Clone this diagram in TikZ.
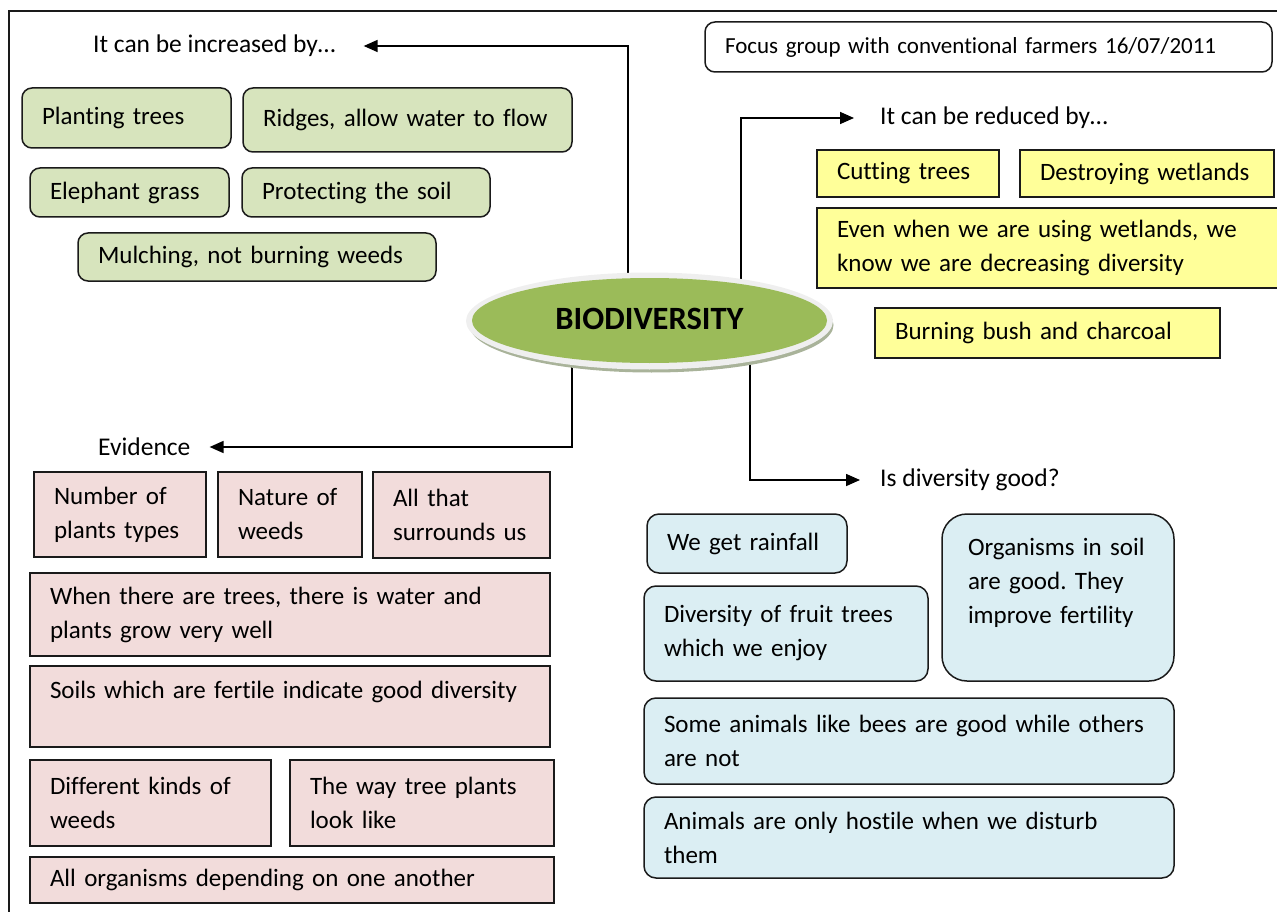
\documentclass[tikz,border=0pt]{standalone}
\usepackage{fontspec}
\setmainfont{Carlito}[Ligatures=NoCommon]
\frenchspacing
\usetikzlibrary{arrows.meta,shapes.geometric}
\pgfdeclarelayer{bg}\pgfsetlayers{bg,main}
\definecolor{gfill}{HTML}{D7E4BD}
\definecolor{yfill}{HTML}{FFFF99}
\definecolor{pfill}{HTML}{F2DCDB}
\definecolor{bfill}{HTML}{DBEEF3}
\definecolor{egreen}{HTML}{9BBB59}
\definecolor{rim}{HTML}{EFEFEF}
\definecolor{shad}{HTML}{A9B39A}
\definecolor{edge}{HTML}{1A1A1A}
\newcommand\mybox[7]{%
  \pgfmathsetmacro\bxw{#4-#2}%
  \pgfmathsetmacro\bxh{#5-#3}%
  \pgfmathsetmacro\bxt{#4-#2-40}%
  \pgfmathsetmacro\bxx{(#2+#4)/2}%
  \pgfmathsetmacro\bxy{(#3+#5)/2}%
  \node[#6, minimum width=\bxw pt, minimum height=\bxh pt, text width=\bxt pt, inner xsep=20pt, align=left] (#1) at (\bxx,\bxy) {#7};}
\begin{document}
\begin{tikzpicture}[x=1pt,y=-1pt,font=\fontsize{25}{34}\selectfont\frenchspacing,
  gbox/.style={draw=edge, line width=1.5pt, fill=gfill, rounded corners=10pt},
  ybox/.style={draw=edge, line width=1.8pt, fill=yfill},
  pbox/.style={draw=edge, line width=1.5pt, fill=pfill},
  bbox/.style={draw=edge, line width=1.5pt, fill=bfill, rounded corners=12pt},
  fbox/.style={draw=edge, line width=1.5pt, fill=white, rounded corners=10pt},
  lbl/.style={inner sep=0pt, anchor=west, font=\fontsize{25.5}{34}\selectfont},
  arr/.style={line width=1.6pt, -{Triangle[length=14pt,width=12pt]}}]
\useasboundingbox (0,0) rectangle (1277,912);
\clip (0,0) rectangle (1277,912);
% frame
\draw[line width=1.5pt, edge] (9,930) -- (9,11) -- (1300,11);
% title
\mybox{focus}{705}{22}{1272}{72}{fbox, font=\fontsize{23}{30}\selectfont}{\mbox{Focus group with conventional farmers 16/07/2011}}
% central ellipse
\fill[shad] (651.5,325) ellipse [x radius=182pt, y radius=47.5pt];
\fill[rim] (649.5,321) ellipse [x radius=183.5pt, y radius=48.5pt];
\node[ellipse, fill=egreen, inner sep=0pt, minimum width=355pt, minimum height=85pt, font=\fontsize{32.5}{36}\selectfont\bfseries] (bio) at (649.5,320.5) {\raisebox{3pt}{BIODIVERSITY}};
% labels
\node[lbl] (inc) at (93,46) {It can be increased by…};
\node[lbl] (red) at (880,118) {It can be reduced by…};
\node[lbl] (evi) at (98,447) {Evidence};
\node[lbl] (good) at (880,480) {Is diversity good?};
% green
\mybox{g1}{22}{88}{231}{148}{gbox}{\mbox{Planting trees}}
\mybox{g2}{243}{88}{572}{152}{gbox}{\mbox{Ridges, allow water to flow}}
\mybox{g3}{30}{168}{229}{217}{gbox}{\raisebox{-2pt}{\mbox{Elephant grass}}}
\mybox{g4}{242}{168}{490}{217}{gbox}{\raisebox{-2pt}{\mbox{Protecting the soil}}}
\mybox{g5}{78}{233}{436}{281}{gbox}{\raisebox{-2pt}{\mbox{Mulching, not burning weeds}}}
% yellow
\mybox{y1}{817}{150}{999}{197}{ybox}{\raisebox{-2pt}{\mbox{Cutting trees}}}
\mybox{y2}{1020}{150}{1274}{197}{ybox}{\raisebox{-2pt}{\mbox{Destroying wetlands}}}
\mybox{y3}{817}{208}{1290}{288}{ybox}{\mbox{Even when we are using wetlands, we}\\\mbox{know we are decreasing diversity}}
\mybox{y4}{875}{308}{1220}{358}{ybox}{\mbox{Burning bush and charcoal}}
% pink
\mybox{p1}{34}{472}{206}{557}{pbox}{\mbox{Number of}\\\mbox{plants types}}
\mybox{p2}{218}{472}{362}{557}{pbox}{\mbox{Nature of}\\\mbox{weeds}}
\mybox{p3}{373}{472}{550}{558}{pbox}{\mbox{All that}\\\mbox{surrounds us}}
\mybox{p4}{30}{573}{550}{656}{pbox}{\mbox{When there are trees, there is water and}\\\mbox{plants grow very well}}
\mybox{p5}{30}{666}{550}{747}{pbox}{\mbox{Soils which are fertile indicate good diversity}\\\mbox{}}
\mybox{p6}{30}{760}{271}{846}{pbox}{\mbox{Different kinds of}\\\mbox{weeds}}
\mybox{p7}{290}{760}{554}{846}{pbox}{\mbox{The way tree plants}\\\mbox{look like}}
\mybox{p8}{30}{857}{554}{903}{pbox}{\mbox{All organisms depending on one another}}
% blue
\mybox{b1}{647}{514}{847}{573}{bbox}{\mbox{We get rainfall}}
\mybox{b2}{644}{586}{928}{681}{bbox}{\mbox{Diversity of fruit trees}\\\mbox{which we enjoy}}
\mybox{b3}{942}{514}{1174}{681}{bbox, rounded corners=25pt}{\mbox{\hspace{6pt}Organisms in soil}\\\mbox{\hspace{6pt}are good. They}\\\mbox{\hspace{6pt}improve fertility}\\\mbox{}}
\mybox{b4}{644}{698}{1174}{784}{bbox}{\mbox{Some animals like bees are good while others}\\\mbox{are not}}
\mybox{b5}{644}{797}{1174}{878}{bbox}{\mbox{Animals are only hostile when we disturb}\\\mbox{them}}
% connectors
\begin{pgfonlayer}{bg}
\draw[arr, shorten >=28pt] ([xshift=-21.5pt]bio.center) |- (inc.east);
\draw[arr, shorten >=26pt] ([xshift=91.5pt]bio.center) |- (red.west);
\draw[arr, shorten >=19pt] ([xshift=-77.5pt]bio.center) |- (evi.east);
\draw[arr, shorten >=20pt] ([xshift=100.5pt]bio.center) |- (good.west);
\end{pgfonlayer}
\end{tikzpicture}
\end{document}
